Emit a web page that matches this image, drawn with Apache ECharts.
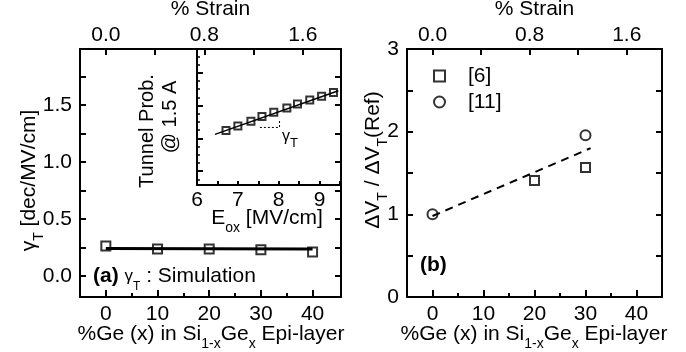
<!DOCTYPE html>
<html><head><meta charset="utf-8">
<script src="https://cdn.jsdelivr.net/npm/echarts@6/dist/echarts.min.js"></script>
<style>html,body{margin:0;padding:0;background:#fff}#c{width:686px;height:352px}</style>
</head><body><div id="c"></div>
<script>
// ---- data ----
const geMain = [0, 10, 20, 30, 40];
const gammaMain = [0.263, 0.237, 0.237, 0.230, 0.210];
const fitMainX = [0, 40];
const fitMainY = [0.240, 0.235];
const eox = [6.71, 7.0, 7.32, 7.59, 7.88, 8.2, 8.46, 8.76, 9.05, 9.34];
const tunnel = [1.242, 1.373, 1.524, 1.667, 1.797, 1.930, 2.052, 2.173, 2.282, 2.403];
const fitInsetX = [6.44, 9.46];
const fitInsetY = [1.121, 2.455];
const slopeX = [7.54, 8.02, 8.02];
const slopeY = [1.333, 1.333, 1.545];
const geRef6 = [20, 30];
const ratioRef6 = [1.41, 1.567];
const geRef11 = [0, 30];
const ratioRef11 = [1.0, 1.956];
const trendX = [0, 31];
const trendY = [0.98, 1.80];
// ---- ticks ----
const geTicks = [0, 10, 20, 30, 40];
const geMinor = [5, 15, 25, 35];
const strainTicks = [0, 0.4, 0.8, 1.2, 1.6];
const strainLabels = [0, 0.8, 1.6];
const gammaTicks = [0, 0.25, 0.5, 0.75, 1.0, 1.25, 1.5, 1.75];
const gammaLabels = [0, 0.5, 1.0, 1.5];
const eoxLabels = [6, 7, 8, 9];
const insetTicks = [0, 1, 2, 3];
const insetMinor = [-0.25, 0.25, 0.5, 0.75, 1.25, 1.5, 1.75, 2.25, 2.5, 2.75, 3.25, 3.5];
const ratioLabels = [0, 1, 2, 3];

const FONT = 'Liberation Sans, Arial, sans-serif';
const K = '#000';
const zip = (a, b) => a.map((v, i) => [v, b[i]]);

function axis(o) {
  const base = {
    type: 'value',
    axisLine: {show: true, onZero: false, lineStyle: {color: K, width: 2}},
    axisTick: {show: true, inside: true, length: 6, lineStyle: {color: K, width: 2}},
    axisLabel: {show: true, color: K, fontSize: 21, fontFamily: FONT},
    splitLine: {show: false}
  };
  const r = Object.assign({}, base, o);
  r.axisLine = Object.assign({}, base.axisLine, o.axisLine || {});
  r.axisTick = Object.assign({}, base.axisTick, o.axisTick || {});
  r.axisLabel = Object.assign({}, base.axisLabel, o.axisLabel || {});
  return r;
}
const hidden = (g) => ({type: 'value', gridIndex: g, show: false, min: 0, max: 1});

const grids = [
  {left: 80, top: 49, width: 261, height: 248},   // 0 main left
  {left: 197, top: 49, width: 143, height: 136},  // 1 inset
  {left: 407, top: 49, width: 255, height: 248},  // 2 right
  {left: 80, top: 49, width: 261, height: 248},   // 3 main overlay
  {left: 407, top: 49, width: 255, height: 248},  // 4 right overlay
  {left: 197, top: 49, width: 143, height: 136}   // 5 inset overlay
].map(g => Object.assign({outerBoundsMode: 'none', containLabel: false}, g));

const strainName = {name: '% Strain', nameLocation: 'middle', nameGap: 23,
  nameTextStyle: {color: K, fontSize: 21, fontFamily: FONT}};

const xAxes = [
  axis({gridIndex: 0, min: -5, max: 45.5, position: 'bottom',
        axisTick: {customValues: geTicks, length: 7}, axisLabel: {customValues: geTicks, margin: 7}}),
  axis(Object.assign({gridIndex: 0, min: -0.21, max: 1.911, position: 'top',
        axisTick: {customValues: strainTicks},
        axisLabel: {customValues: strainLabels, margin: 3, formatter: v => v.toFixed(1)}}, strainName)),
  axis({gridIndex: 1, min: 6, max: 9.5, interval: 0.5, position: 'bottom',
        axisTick: {length: 4}, axisLabel: {customValues: eoxLabels, margin: 5}}),
  axis({gridIndex: 2, min: -5, max: 45, position: 'bottom',
        axisTick: {customValues: geTicks, length: 7}, axisLabel: {customValues: geTicks, margin: 7}}),
  axis(Object.assign({gridIndex: 2, min: -0.21, max: 1.89, position: 'top',
        axisTick: {customValues: strainTicks},
        axisLabel: {customValues: strainLabels, margin: 3, formatter: v => v.toFixed(1)}}, strainName)),
  axis({gridIndex: 3, min: -5, max: 45.5, position: 'bottom', axisLine: {show: false},
        axisTick: {customValues: geMinor, length: 4}, axisLabel: {show: false}}),
  axis({gridIndex: 4, min: -5, max: 45, position: 'bottom', axisLine: {show: false},
        axisTick: {customValues: geMinor, length: 4}, axisLabel: {show: false}}),
  hidden(5)
];

const yAxes = [
  axis({gridIndex: 0, min: -0.185, max: 1.99, position: 'left',
        axisTick: {customValues: gammaTicks},
        axisLabel: {customValues: gammaLabels, margin: 8, formatter: v => v.toFixed(1)}}),
  axis({gridIndex: 0, min: -0.185, max: 1.99, position: 'right',
        axisTick: {customValues: gammaTicks}, axisLabel: {show: false}}),
  axis({gridIndex: 1, min: -0.424, max: 3.727, position: 'left',
        axisTick: {customValues: insetTicks, length: 6}, axisLabel: {show: false}}),
  axis({gridIndex: 2, min: 0, max: 3, interval: 0.5, position: 'left',
        axisLabel: {customValues: ratioLabels, margin: 8}}),
  axis({gridIndex: 2, min: 0, max: 3, interval: 0.5, position: 'right', axisLabel: {show: false}}),
  hidden(3),
  hidden(4),
  axis({gridIndex: 5, min: -0.424, max: 3.727, position: 'left', axisLine: {show: false},
        axisTick: {customValues: insetMinor, length: 3, lineStyle: {color: K, width: 1.5}},
        axisLabel: {show: false}})
];

const hollow = {color: 'rgba(255,255,255,0)', borderColor: K, borderWidth: 2};

const series = [
  {type: 'line', xAxisIndex: 0, yAxisIndex: 0, data: zip(fitMainX, fitMainY), showSymbol: false,
   lineStyle: {color: K, width: 3}, silent: true, z: 2},
  {type: 'scatter', xAxisIndex: 0, yAxisIndex: 0, data: zip(geMain, gammaMain), symbol: 'rect',
   symbolSize: 9, itemStyle: hollow, z: 3},
  {type: 'line', xAxisIndex: 2, yAxisIndex: 2, data: zip(fitInsetX, fitInsetY), showSymbol: false,
   lineStyle: {color: K, width: 1.5}, z: 2},
  {type: 'line', xAxisIndex: 2, yAxisIndex: 2, data: zip(slopeX, slopeY), showSymbol: false,
   lineStyle: {color: K, width: 1, type: [2, 2]}, z: 2},
  {type: 'scatter', xAxisIndex: 2, yAxisIndex: 2, data: zip(eox, tunnel), symbol: 'rect',
   symbolSize: 7, itemStyle: hollow, z: 3},
  {type: 'line', xAxisIndex: 3, yAxisIndex: 3, data: zip(trendX, trendY), showSymbol: false,
   lineStyle: {color: K, width: 2, type: [8, 6]}, z: 2},
  {type: 'scatter', name: '[6]', xAxisIndex: 3, yAxisIndex: 3, data: zip(geRef6, ratioRef6),
   symbol: 'rect', symbolSize: 9, itemStyle: hollow, z: 3},
  {type: 'scatter', name: '[11]', xAxisIndex: 3, yAxisIndex: 3, data: zip(geRef11, ratioRef11),
   symbol: 'circle', symbolSize: 10, itemStyle: hollow, z: 3}
];

function label(x, y, text, rich, opts) {
  return Object.assign({
    type: 'text', x: x, y: y, z: 100,
    style: {text: text, rich: rich, fill: K, fontFamily: FONT, fontSize: 21,
            align: 'center', verticalAlign: 'middle', textAlign: 'center', textVerticalAlign: 'middle'}
  }, opts || {});
}
const RICH = {
  m: {fontSize: 21, fontFamily: FONT, color: K, lineHeight: 34},
  s: {fontSize: 14, fontFamily: FONT, color: K, lineHeight: 12, verticalAlign: 'bottom'},
  b: {fontSize: 21, fontFamily: FONT, color: K, fontWeight: 'bold', lineHeight: 34},
  g: {fontSize: 17, fontFamily: FONT, color: K, lineHeight: 34},
  t: {fontSize: 12, fontFamily: FONT, color: K, lineHeight: 14, verticalAlign: 'bottom'},
  i: {fontSize: 20, fontFamily: FONT, color: K, lineHeight: 24},
  gs: {fontSize: 16, fontFamily: FONT, color: K, lineHeight: 26},
  ts: {fontSize: 13, fontFamily: FONT, color: K, lineHeight: 12, verticalAlign: 'bottom'}
};
const ROT = Math.PI / 2;
const xTitle = '{m|%Ge (x) in Si}{s|1-x}{m|Ge}{s|x}{m| Epi-layer}';

const graphic = [
  label(29, 180.5, '{m|γ}{s|T}{m| [dec/MV/cm]}', RICH, {rotation: ROT}),
  label(211, 334, xTitle, RICH),
  label(534, 334, xTitle, RICH),
  label(373, 160, '{m|ΔV}{s|T}{m| / ΔV}{s|T}{m|(Ref)}', RICH, {rotation: ROT}),
  label(147, 131, '{i|Tunnel Prob.}', RICH, {rotation: ROT}),
  label(170, 117, '{i|@ 1.5 A}', RICH, {rotation: ROT}),
  label(267, 218.5, '{m|E}{s|ox}{m| [MV/cm]}', RICH),
  label(290, 137, '{gs|γ}{ts|T}', RICH),
  (function () {
    const e = label(93, 276, '{b|(a)}{m| }{g|γ}{t|T}{m| : Simulation}', RICH);
    e.style.align = 'left'; e.style.textAlign = 'left';
    return e;
  })(),
  (function () {
    const e = label(420, 265, '{b|(b)}', RICH);
    e.style.align = 'left'; e.style.textAlign = 'left';
    return e;
  })()
];

const chart = echarts.init(document.getElementById('c'), null, {renderer: 'canvas'});
chart.setOption({
  animation: false,
  backgroundColor: '#fff',
  textStyle: {fontFamily: FONT},
  grid: grids,
  xAxis: xAxes,
  yAxis: yAxes,
  legend: {
    data: ['[6]', '[11]'], orient: 'vertical', left: 433, top: 65.5, padding: 0,
    itemWidth: 11, itemHeight: 11, itemGap: 5, selectedMode: false,
    textStyle: {color: K, fontSize: 21, fontFamily: FONT, lineHeight: 21, padding: [0, 0, 0, 18]}
  },
  series: series,
  graphic: graphic
});
</script></body></html>
